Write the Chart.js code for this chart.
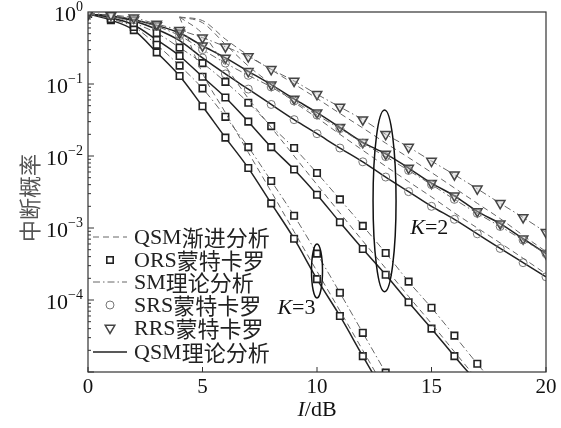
<!DOCTYPE html>
<html lang="zh">
<head>
  <meta charset="UTF-8">
  <title>中断概率</title>
  <script src="https://cdn.jsdelivr.net/npm/chart.js"></script>
  <style>
    html, body { margin: 0; padding: 0; background: #fff; }
  </style>
</head>
<body>
  <canvas id="chart" width="561" height="428"></canvas>

  <script>
    const snr = [0, 1, 2, 3, 4, 5, 6, 7, 8, 9, 10, 11, 12, 13, 14, 15, 16, 17, 18, 19, 20];
    const xTicks = [0, 5, 10, 15, 20];
    const yTickExp = [0, -1, -2, -3, -4];

    // K=2, RRS
    const rrsSM  = [0.94, 0.91, 0.83, 0.68, 0.56, 0.44, 0.33, 0.24, 0.16, 0.11, 0.072, 0.048, 0.032, 0.020, 0.0133, 0.0085, 0.0055, 0.0035, 0.0022, 0.0014, 0.00087];
    const rrsQSM = [0.93, 0.89, 0.78, 0.65, 0.51, 0.34, 0.23, 0.15, 0.098, 0.062, 0.040, 0.025, 0.0155, 0.0107, 0.0068, 0.0042, 0.0028, 0.0017, 0.00115, 0.00071, 0.00044];
    const rrsAsym = [null, null, null, null, 0.85, 0.76, 0.42, 0.25, 0.158, 0.100, 0.063, 0.039, 0.0245, 0.0151, 0.0095, 0.0059, 0.0036, 0.0022, 0.00135, 0.00079, 0.00047];
    // K=2, SRS
    const srsSM  = [0.93, 0.89, 0.78, 0.63, 0.47, 0.30, 0.195, 0.132, 0.091, 0.058, 0.037, 0.024, 0.0151, 0.0098, 0.0063, 0.0040, 0.0025, 0.0016, 0.00105, 0.00068, 0.00044];
    const srsQSM = [0.93, 0.87, 0.75, 0.575, 0.40, 0.23, 0.138, 0.085, 0.052, 0.032, 0.0204, 0.0129, 0.0083, 0.0051, 0.0032, 0.0020, 0.00132, 0.00083, 0.00052, 0.00033, 0.00021];
    const srsAsym = [null, null, null, null, 0.85, 0.71, 0.355, 0.178, 0.100, 0.056, 0.034, 0.020, 0.012, 0.0072, 0.0044, 0.0027, 0.00162, 0.00100, 0.00062, 0.00038, 0.00023];
    // K=2, ORS
    const ors2SM  = [0.97, 0.88, 0.70, 0.51, 0.32, 0.195, 0.107, 0.055, 0.026, 0.0129, 0.0058, 0.0025, 0.00107, 0.00045, 0.00018, 0.000078, 0.000032, 0.000013, 0.0000055, null, null];
    const ors2QSM = [0.94, 0.83, 0.66, 0.41, 0.245, 0.126, 0.065, 0.030, 0.0133, 0.0065, 0.0029, 0.0012, 0.00051, 0.000224, 0.000093, 0.000040, 0.0000166, 0.0000071, null, null, null];
    const ors2Asym = [null, null, null, null, 0.85, 0.50, 0.178, 0.063, 0.025, 0.010, 0.0040, 0.00162, 0.00066, 0.000275, 0.000112, 0.000047, 0.0000191, 0.0000079, null, null, null];
    // K=3, ORS
    const ors3SM  = [0.94, 0.80, 0.62, 0.35, 0.18, 0.087, 0.035, 0.0133, 0.0045, 0.00148, 0.00044, 0.000126, 0.000035, 0.0000098, 0.0000028, null, null, null, null, null, null];
    const ors3QSM = [0.94, 0.77, 0.56, 0.275, 0.129, 0.049, 0.018, 0.0068, 0.0022, 0.00071, 0.000195, 0.000060, 0.0000166, 0.0000047, null, null, null, null, null, null, null];
    const ors3Asym = [null, null, null, null, 0.85, 0.141, 0.040, 0.0112, 0.0032, 0.00089, 0.00025, 0.000071, 0.000020, 0.0000056, null, null, null, null, null, null, null];

    const serif = '"Liberation Serif", "Noto Sans CJK SC", serif';
    const ink = '#222';
    const grey = '#666';

    function lineSet(data, kind, marker) {
      const ds = {
        data: data,
        borderColor: kind === 'solid' ? ink : grey,
        borderWidth: kind === 'solid' ? 1.5 : 1,
        borderDash: kind === 'dash' ? [6, 4] : kind === 'dashdot' ? [7, 3, 1.5, 3] : [],
        pointRadius: 0,
        cubicInterpolationMode: 'monotone',
        fill: false,
        spanGaps: false
      };
      if (marker === 'sq') Object.assign(ds, { pointStyle: 'rect', pointRadius: 4.6, pointBorderColor: '#222', pointBorderWidth: 1.6, pointBackgroundColor: '#fff' });
      if (marker === 'ci') Object.assign(ds, { pointStyle: 'circle', pointRadius: 4, pointBorderColor: '#777', pointBorderWidth: 1, pointBackgroundColor: 'rgba(255,255,255,0)' });
      if (marker === 'tr') Object.assign(ds, { pointStyle: 'triangle', pointRotation: 180, pointRadius: 5.5, pointBorderColor: '#444', pointBorderWidth: 1.5, pointBackgroundColor: 'rgba(200,200,200,0.4)' });
      return ds;
    }

    function drawText(ctx, parts, x, y, align) {
      // parts: [[text, font, dy]]
      let w = 0;
      parts.forEach(p => { ctx.font = p[1]; w += ctx.measureText(p[0]).width; });
      let cx = align === 'right' ? x - w : align === 'center' ? x - w / 2 : x;
      parts.forEach(p => {
        ctx.font = p[1];
        ctx.fillText(p[0], cx, y + (p[2] || 0));
        cx += ctx.measureText(p[0]).width;
      });
    }

    const decor = {
      id: 'decor',
      afterDraw(chart) {
        const { ctx, chartArea: a, scales: { x, y } } = chart;
        ctx.save();
        ctx.strokeStyle = '#333';
        ctx.lineWidth = 1.2;
        ctx.strokeRect(a.left, a.top, a.right - a.left, a.bottom - a.top);

        // ticks pointing inwards
        ctx.lineWidth = 1;
        ctx.beginPath();
        xTicks.forEach(v => {
          const px = x.getPixelForValue(v);
          ctx.moveTo(px, a.bottom); ctx.lineTo(px, a.bottom - 5);
        });
        for (let e = -5; e < 0; e++) {
          for (let m = 1; m < 10; m++) {
            const py = y.getPixelForValue(m * Math.pow(10, e));
            ctx.moveTo(a.left, py); ctx.lineTo(a.left + (m === 1 ? 6 : 3), py);
          }
        }
        ctx.stroke();

        // tick labels
        ctx.fillStyle = '#111';
        ctx.textBaseline = 'middle';
        ctx.textAlign = 'left';
        xTicks.forEach(v => drawText(ctx, [[String(v), '21px ' + serif]], x.getPixelForValue(v), a.bottom + 15, 'center'));
        yTickExp.forEach(e => {
          const sup = e === 0 ? '0' : '\u2212' + (-e);
          drawText(ctx, [['10', '22px ' + serif], [sup, '14px ' + serif, -8]], a.left - 5, y.getPixelForValue(Math.pow(10, e)) + 3, 'right');
        });

        // axis titles
        drawText(ctx, [['I', 'italic 22px ' + serif], ['/dB', '22px ' + serif]], (a.left + a.right) / 2, 410, 'center');
        ctx.save();
        ctx.translate(30, 198);
        ctx.rotate(-Math.PI / 2);
        ctx.fillStyle = '#555';
        drawText(ctx, [['中断概率', '22px "Noto Sans CJK SC", sans-serif']], 0, 0, 'center');
        ctx.restore();

        // ellipses and K labels
        ctx.strokeStyle = '#111';
        ctx.lineWidth = 1.5;
        const ell = (xv, yTop, yBot, rx) => {
          const cx = x.getPixelForValue(xv);
          const t = y.getPixelForValue(yTop), b = y.getPixelForValue(yBot);
          ctx.beginPath();
          ctx.ellipse(cx, (t + b) / 2, rx, (b - t) / 2, 0, 0, Math.PI * 2);
          ctx.stroke();
        };
        ell(12.95, 0.0437, 0.00013, 11.5);
        ell(10.0, 0.0006, 0.000107, 5.5);
        ctx.fillStyle = '#111';
        drawText(ctx, [['K', 'italic 22px ' + serif], ['=2', '22px ' + serif]], x.getPixelForValue(14.07), y.getPixelForValue(0.001), 'left');
        drawText(ctx, [['K', 'italic 22px ' + serif], ['=3', '22px ' + serif]], x.getPixelForValue(8.27), y.getPixelForValue(0.000078), 'left');

        // legend
        const lx0 = 93, lx1 = 127, tx = 134;
        const rows = [
          ['QSM', '渐进分析', 'dash', null, 237],
          ['ORS', '蒙特卡罗', null, 'sq', 260],
          ['SM', '理论分析', 'dashdot', null, 282],
          ['SRS', '蒙特卡罗', null, 'ci', 305],
          ['RRS', '蒙特卡罗', null, 'tr', 328],
          ['QSM', '理论分析', 'solid', null, 352]
        ];
        rows.forEach(r => {
          const ly = r[4];
          if (r[2]) {
            ctx.beginPath();
            ctx.strokeStyle = r[2] === 'solid' ? ink : grey;
            ctx.lineWidth = r[2] === 'solid' ? 1.5 : 1;
            ctx.setLineDash(r[2] === 'dash' ? [6, 4] : r[2] === 'dashdot' ? [7, 3, 1.5, 3] : []);
            ctx.moveTo(lx0, ly); ctx.lineTo(lx1, ly);
            ctx.stroke();
            ctx.setLineDash([]);
          }
          const mx = (lx0 + lx1) / 2;
          if (r[3] === 'sq') {
            ctx.strokeStyle = '#222'; ctx.lineWidth = 1.6;
            ctx.strokeRect(mx - 3.2, ly - 3.2, 6.4, 6.4);
          } else if (r[3] === 'ci') {
            ctx.strokeStyle = '#777'; ctx.lineWidth = 1;
            ctx.beginPath(); ctx.arc(mx, ly, 4, 0, Math.PI * 2); ctx.stroke();
          } else if (r[3] === 'tr') {
            ctx.strokeStyle = '#444'; ctx.lineWidth = 1.5;
            ctx.beginPath();
            ctx.moveTo(mx - 4.8, ly - 2.7); ctx.lineTo(mx + 4.8, ly - 2.7); ctx.lineTo(mx, ly + 5.5); ctx.closePath();
            ctx.stroke();
          }
          ctx.fillStyle = '#222';
          drawText(ctx, [[r[0], '22px ' + serif], [r[1], '22px "Noto Sans CJK SC", sans-serif']], tx, ly + 1, 'left');
        });
        ctx.restore();
      }
    };

    const datasets = [
      lineSet(rrsAsym, 'dash'), lineSet(srsAsym, 'dash'), lineSet(ors2Asym, 'dash'), lineSet(ors3Asym, 'dash'),
      lineSet(rrsSM, 'dashdot', 'tr'), lineSet(srsSM, 'dashdot', 'ci'), lineSet(ors2SM, 'dashdot', 'sq'), lineSet(ors3SM, 'dashdot', 'sq'),
      lineSet(rrsQSM, 'solid', 'tr'), lineSet(srsQSM, 'solid', 'ci'), lineSet(ors2QSM, 'solid', 'sq'), lineSet(ors3QSM, 'solid', 'sq')
    ];

    new Chart(document.getElementById('chart'), {
      type: 'line',
      data: { labels: snr, datasets: datasets },
      options: {
        responsive: false,
        animation: false,
        layout: { padding: { left: 0, top: 12, right: 15, bottom: 0 } },
        plugins: { legend: { display: false }, tooltip: { enabled: false } },
        scales: {
          x: {
            type: 'linear', min: 0, max: 20,
            grid: { display: false }, border: { display: false },
            ticks: { display: false },
            afterFit: s => { s.height = 56; }
          },
          y: {
            type: 'logarithmic', min: 1e-5, max: 1,
            grid: { display: false }, border: { display: false },
            ticks: { display: false },
            afterFit: s => { s.width = 88; }
          }
        }
      },
      plugins: [decor]
    });
  </script>
</body>
</html>
